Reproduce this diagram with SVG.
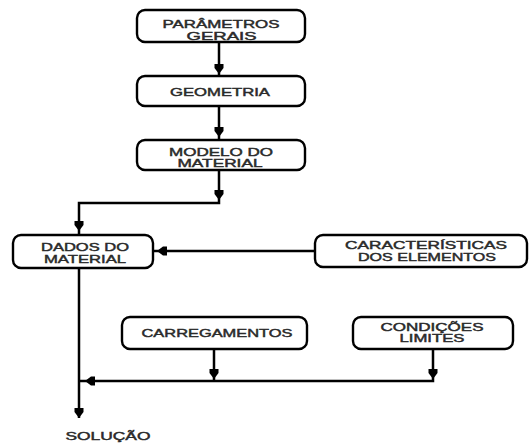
<svg xmlns="http://www.w3.org/2000/svg" xmlns:xlink="http://www.w3.org/1999/xlink" width="529" height="444" viewBox="0 0 529 444">
<style>
.box{fill:#fff;stroke:#000;stroke-width:2.4}
.t{font-family:"Liberation Sans",Arial,sans-serif;font-size:11.5px;fill:#2a2a2a;stroke:#2a2a2a;stroke-width:0.45;text-anchor:middle}
.ln{fill:none;stroke:#000;stroke-width:2.5}
.ah{fill:#000}
</style>
<defs>
<path id="ah" d="M-4.5,-10 H4.5 V-6 L0,0 L-4.5,-6 Z"/>
</defs>
<rect width="529" height="444" fill="#fff"/>
<g id="connectors">
<path class="ln" d="M219,42 V76"/>
<path class="ln" d="M219,106 V140"/>
<path class="ln" d="M219,170 V203 H79 V235"/>
<path class="ln" d="M315,251 H153"/>
<path class="ln" d="M79,268 V418"/>
<path class="ln" d="M214,349 V381"/>
<path class="ln" d="M433,349 V381 H79"/>
<use xlink:href="#ah" class="ah" transform="translate(219,74)"/>
<use xlink:href="#ah" class="ah" transform="translate(219,137)"/>
<use xlink:href="#ah" class="ah" transform="translate(219,200)"/>
<use xlink:href="#ah" class="ah" transform="translate(79,231)"/>
<use xlink:href="#ah" class="ah" transform="translate(157,251) rotate(90)"/>
<use xlink:href="#ah" class="ah" transform="translate(214,379)"/>
<use xlink:href="#ah" class="ah" transform="translate(433,379)"/>
<use xlink:href="#ah" class="ah" transform="translate(85,381) rotate(90)"/>
<use xlink:href="#ah" class="ah" transform="translate(79,418)"/>
</g>
<g id="parametros">
<rect class="box" x="137" y="10" width="168" height="32" rx="8"/>
<text class="t" x="221" y="28" textLength="117" lengthAdjust="spacingAndGlyphs">PARÂMETROS</text>
<text class="t" x="221.5" y="39.5" textLength="70" lengthAdjust="spacingAndGlyphs">GERAIS</text>
</g>
<g id="geometria">
<rect class="box" x="137" y="76" width="168" height="30" rx="8"/>
<text class="t" x="220" y="96" textLength="100" lengthAdjust="spacingAndGlyphs">GEOMETRIA</text>
</g>
<g id="modelo">
<rect class="box" x="137" y="140" width="168" height="30" rx="8"/>
<text class="t" x="221" y="156" textLength="104" lengthAdjust="spacingAndGlyphs">MODELO DO</text>
<text class="t" x="220" y="167" textLength="85" lengthAdjust="spacingAndGlyphs">MATERIAL</text>
</g>
<g id="dados">
<rect class="box" x="13" y="235" width="140" height="33" rx="8"/>
<text class="t" x="85" y="251" textLength="88" lengthAdjust="spacingAndGlyphs">DADOS DO</text>
<text class="t" x="85" y="263" textLength="82" lengthAdjust="spacingAndGlyphs">MATERIAL</text>
</g>
<g id="caracteristicas">
<rect class="box" x="315" y="235" width="212" height="32" rx="8"/>
<text class="t" x="426" y="249" textLength="162" lengthAdjust="spacingAndGlyphs">CARACTERÍSTICAS</text>
<text class="t" x="427" y="260.5" textLength="138" lengthAdjust="spacingAndGlyphs">DOS ELEMENTOS</text>
</g>
<g id="carregamentos">
<rect class="box" x="122" y="317" width="185" height="32" rx="8"/>
<text class="t" x="217" y="337" textLength="151" lengthAdjust="spacingAndGlyphs">CARREGAMENTOS</text>
</g>
<g id="condicoes">
<rect class="box" x="353" y="317" width="160" height="32" rx="8"/>
<text class="t" x="432" y="331" textLength="103" lengthAdjust="spacingAndGlyphs">CONDIÇÕES</text>
<text class="t" x="432" y="342" textLength="65" lengthAdjust="spacingAndGlyphs">LIMITES</text>
</g>
<g id="solucao">
<text class="t" x="108" y="440" textLength="85" lengthAdjust="spacingAndGlyphs">SOLUÇÃO</text>
</g>
</svg>
